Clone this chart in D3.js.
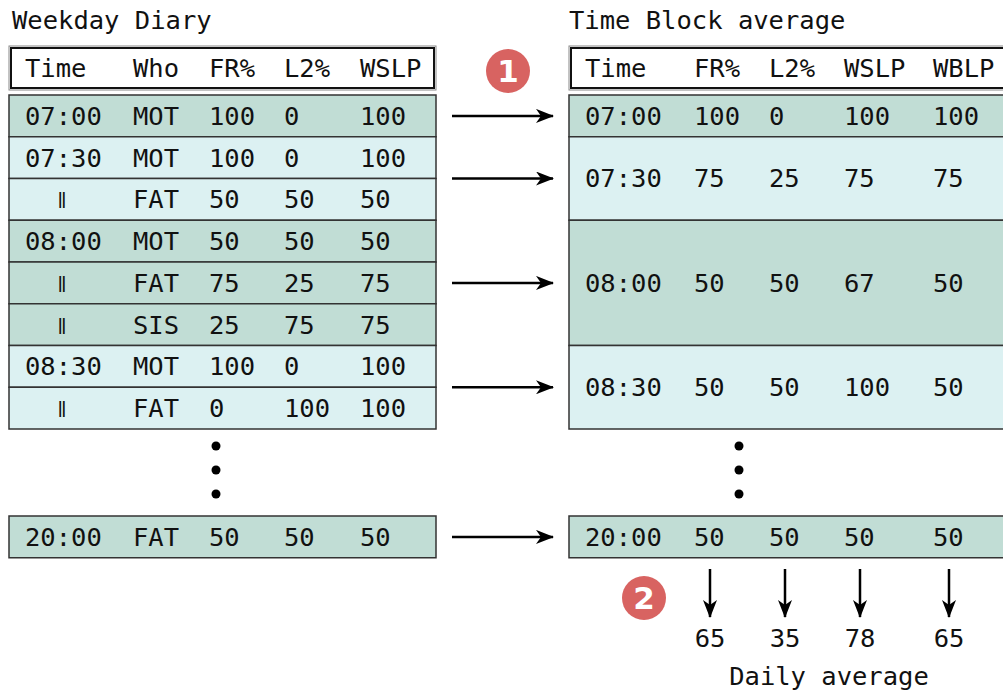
<!DOCTYPE html>
<html>
<head>
<meta charset="utf-8">
<script src="https://cdn.jsdelivr.net/npm/d3@7"></script>
<style>
  body { margin: 0; background: #fff; }
  svg { display: block; }
  text { font-family: "DejaVu Sans Mono", monospace; font-size: 25.5px; fill: #111; }
</style>
</head>
<body>
<div id="chart"></div>
<script>
"use strict";

// weekday diary (left table)
let diaryCols = ["Time", "Who", "FR%", "L2%", "WSLP"];
let diaryTime = ["07:00", "07:30", "\u2016", "08:00", "\u2016", "\u2016", "08:30", "\u2016"];
let diaryWho = ["MOT", "MOT", "FAT", "MOT", "FAT", "SIS", "MOT", "FAT"];
let diaryFR = [100, 100, 50, 50, 75, 25, 100, 0];
let diaryL2 = [0, 0, 50, 50, 25, 75, 0, 100];
let diaryWSLP = [100, 100, 50, 50, 75, 75, 100, 100];
let diaryBlock = [0, 1, 1, 2, 2, 2, 3, 3];
let diaryLast = ["20:00", "FAT", 50, 50, 50];

// time block average (right table)
let blockCols = ["Time", "FR%", "L2%", "WSLP", "WBLP"];
let blockTime = ["07:00", "07:30", "08:00", "08:30"];
let blockSpan = [1, 2, 3, 2];
let blockFR = [100, 75, 50, 50];
let blockL2 = [0, 25, 50, 50];
let blockWSLP = [100, 75, 67, 100];
let blockWBLP = [100, 75, 50, 50];
let blockLast = ["20:00", 50, 50, 50, 50];

let dailyAvg = [65, 35, 78, 65];

let darkFill = "#c1ddd5",
    lightFill = "#dcf1f2",
    badgeRed = "#d86361";

var width = 1003, height = 695;

var svg = d3.select("#chart").append("svg")
  .attr("width", width)
  .attr("height", height);

// arrow marker
svg.append("defs").append("marker")
  .attr("id", "head")
  .attr("viewBox", "0 -7 18 14")
  .attr("refX", 17).attr("refY", 0)
  .attr("markerWidth", 18).attr("markerHeight", 14)
  .attr("markerUnits", "userSpaceOnUse")
  .attr("orient", "auto")
  .append("path")
  .attr("d", "M0,-7 L18,0 L0,7 L5,0 Z")
  .attr("fill", "#000");

// row positions
var rowY = d3.scaleLinear().domain([0, 8]).range([95, 429]);
var rowH = rowY(1) - rowY(0);
var lastY = 516;

var leftX = d3.scaleOrdinal().domain(diaryCols).range([25, 133, 209, 284, 360]);
var rightX = d3.scaleOrdinal().domain(blockCols).range([585, 694, 769, 844, 933]);

var leftBox = [9, 436], rightBox = [569, 1012];

function headerBox(x0, x1) {
  svg.append("rect")
    .attr("x", x0).attr("y", 46).attr("width", x1 - x0).attr("height", 44)
    .attr("fill", "#fff").attr("stroke", "#888").attr("stroke-width", 1);
  svg.append("rect")
    .attr("x", x0 + 2).attr("y", 48).attr("width", x1 - x0 - 4).attr("height", 40)
    .attr("fill", "none").attr("stroke", "#111").attr("stroke-width", 2);
}

function cellRow(x0, x1, y, h, fill) {
  svg.append("rect")
    .attr("x", x0).attr("y", y).attr("width", x1 - x0).attr("height", h)
    .attr("fill", fill).attr("stroke", "#333").attr("stroke-width", 1.5);
}

// titles
svg.append("text").attr("x", 12).attr("y", 29).text("Weekday Diary");
svg.append("text").attr("x", 569).attr("y", 29).text("Time Block average");

// ---- left table
headerBox(leftBox[0], leftBox[1]);
diaryCols.forEach(function(c) {
  svg.append("text").attr("x", leftX(c)).attr("y", 68).attr("dy", "0.35em").text(c);
});

diaryTime.forEach(function(t, i) {
  let fill = diaryBlock[i] % 2 === 0 ? darkFill : lightFill;
  cellRow(leftBox[0], leftBox[1], rowY(i), rowH, fill);
  let cy = rowY(i) + rowH / 2;
  let vals = [t, diaryWho[i], diaryFR[i], diaryL2[i], diaryWSLP[i]];
  vals.forEach(function(v, j) {
    let tx = svg.append("text").attr("y", cy).text(v);
    if (v === "\u2016") {
      // ditto mark
      tx.attr("x", leftX(diaryCols[0]) + 37).attr("text-anchor", "middle")
        .attr("dominant-baseline", "central")
        .style("font-size", "15px").style("font-weight", "bold");
    } else {
      tx.attr("x", leftX(diaryCols[j])).attr("dy", "0.35em");
    }
  });
});

cellRow(leftBox[0], leftBox[1], lastY, rowH, darkFill);
diaryLast.forEach(function(v, j) {
  svg.append("text").attr("x", leftX(diaryCols[j])).attr("y", lastY + rowH / 2)
    .attr("dy", "0.35em").text(v);
});

// ---- right table
headerBox(rightBox[0], rightBox[1]);
blockCols.forEach(function(c) {
  svg.append("text").attr("x", rightX(c)).attr("y", 68).attr("dy", "0.35em").text(c);
});

var start = 0;
var arrowYs = [];
blockTime.forEach(function(t, i) {
  let y0 = rowY(start), y1 = rowY(start + blockSpan[i]);
  cellRow(rightBox[0], rightBox[1], y0, y1 - y0, i % 2 === 0 ? darkFill : lightFill);
  let cy = (y0 + y1) / 2;
  arrowYs.push(cy);
  [t, blockFR[i], blockL2[i], blockWSLP[i], blockWBLP[i]].forEach(function(v, j) {
    svg.append("text").attr("x", rightX(blockCols[j])).attr("y", cy).attr("dy", "0.35em").text(v);
  });
  start += blockSpan[i];
});

cellRow(rightBox[0], rightBox[1], lastY, rowH, darkFill);
blockLast.forEach(function(v, j) {
  svg.append("text").attr("x", rightX(blockCols[j])).attr("y", lastY + rowH / 2)
    .attr("dy", "0.35em").text(v);
});
arrowYs.push(lastY + rowH / 2);

// vertical ellipsis dots
[446, 470, 494].forEach(function(y) {
  svg.append("circle").attr("cx", 216).attr("cy", y).attr("r", 4.5).attr("fill", "#000");
  svg.append("circle").attr("cx", 739).attr("cy", y).attr("r", 4.5).attr("fill", "#000");
});

// horizontal arrows
arrowYs.forEach(function(y) {
  svg.append("line")
    .attr("x1", 452).attr("x2", 553).attr("y1", y).attr("y2", y)
    .attr("stroke", "#000").attr("stroke-width", 2.5)
    .attr("marker-end", "url(#head)");
});

// down arrows + daily average
dailyAvg.forEach(function(v, j) {
  let cx = rightX(blockCols[j + 1]) + 16;
  svg.append("line")
    .attr("x1", cx).attr("x2", cx).attr("y1", 569).attr("y2", 617)
    .attr("stroke", "#000").attr("stroke-width", 2.5)
    .attr("marker-end", "url(#head)");
  svg.append("text").attr("x", cx).attr("y", 647).attr("text-anchor", "middle").text(v);
});
svg.append("text").attr("x", 829).attr("y", 685).attr("text-anchor", "middle").text("Daily average");

// numbered badges
function badge(cx, cy, label) {
  svg.append("circle").attr("cx", cx).attr("cy", cy).attr("r", 22).attr("fill", badgeRed);
  svg.append("text").attr("x", cx).attr("y", cy).attr("dy", "0.36em")
    .attr("text-anchor", "middle")
    .style("font-family", "'DejaVu Sans', sans-serif")
    .style("font-weight", "bold").style("font-size", "31px")
    .style("fill", "#fff")
    .text(label);
}
badge(508, 71, "1");
badge(644, 598, "2");
</script>
</body>
</html>
